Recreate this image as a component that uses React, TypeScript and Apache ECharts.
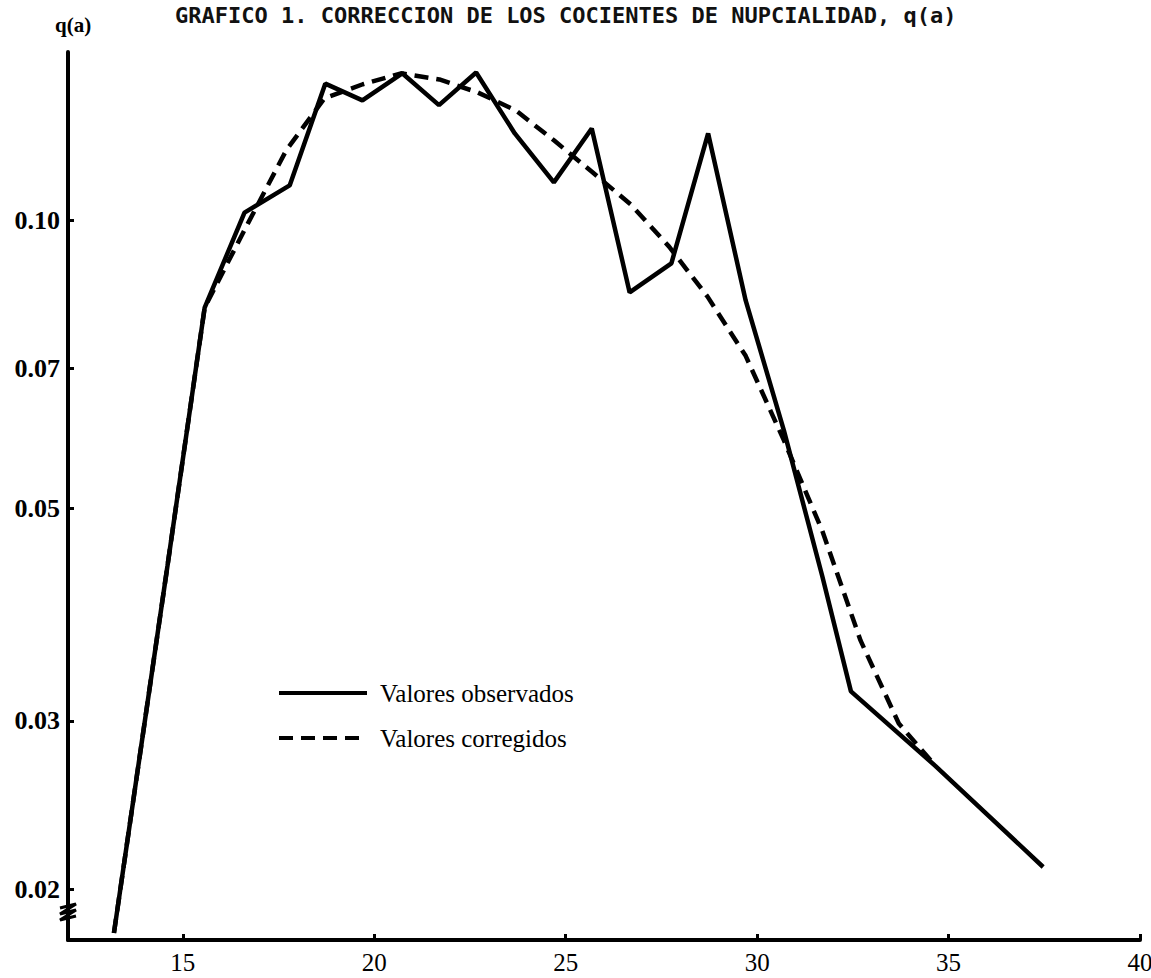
import React, { useEffect, useRef } from "react";
import * as echarts from "echarts";

const titleText = "GRAFICO 1. CORRECCION DE LOS COCIENTES DE NUPCIALIDAD, q(a)";
const yName = "q(a)";
const seriesNames = ["Valores observados", "Valores corregidos"];

const obsAge = [13.2, 14.6, 15.57, 16.61, 17.79, 18.72, 19.69, 20.73, 21.69, 22.66, 23.67, 24.69, 25.68, 26.67, 27.76, 28.72, 29.7, 30.7, 31.7, 32.45, 34.66, 37.47];
const obsQ = [0.018, 0.0436, 0.0811, 0.1019, 0.1088, 0.139, 0.1335, 0.1425, 0.132, 0.1428, 0.1233, 0.1096, 0.1248, 0.0841, 0.0902, 0.1233, 0.0825, 0.0603, 0.0425, 0.0322, 0.0269, 0.0211];

const corAge = [13.2, 14.6, 15.57, 16.7, 17.7, 18.7, 19.7, 20.7, 21.7, 22.7, 23.7, 24.7, 25.7, 26.7, 27.7, 28.7, 29.7, 30.7, 31.7, 32.7, 33.7, 34.66];
const corQ = [0.018, 0.0436, 0.0811, 0.0993, 0.1184, 0.1342, 0.1388, 0.1425, 0.1404, 0.1361, 0.1303, 0.1212, 0.1123, 0.1039, 0.0939, 0.0833, 0.0722, 0.0589, 0.0474, 0.0364, 0.0298, 0.0269];

const xTicks = [15, 20, 25, 30, 35, 40];
const yTicks = [0.02, 0.03, 0.05, 0.07, 0.1];

const serif = "'Liberation Serif', 'DejaVu Serif', serif";

export default function App() {
  const ref = useRef<HTMLDivElement>(null);
  useEffect(() => {
    if (!ref.current) return;
    const chart = echarts.init(ref.current, null, { renderer: "svg" });
    const obs = obsAge.map((a, i) => [a, obsQ[i]]);
    const cor = corAge.map((a, i) => [a, corQ[i]]);
    chart.setOption({
      animation: false,
      backgroundColor: "#ffffff",
      grid: { left: 68, right: 11, top: 52, bottom: 38, containLabel: false, outerBoundsMode: "none" },
      legend: {
        orient: "vertical",
        left: 277,
        top: 680,
        padding: 0,
        itemWidth: 88,
        itemHeight: 14,
        itemGap: 19,
        itemStyle: { opacity: 0, borderWidth: 0 },
        data: [
          { name: seriesNames[0], lineStyle: { width: 4, type: "solid", color: "#000" } },
          { name: seriesNames[1], lineStyle: { width: 4, type: [14, 8], color: "#000" } },
        ],
        textStyle: { fontFamily: serif, fontSize: 25, color: "#000", lineHeight: 26, padding: [0, 0, 0, 8] },
      },
      xAxis: {
        type: "value",
        min: 12,
        max: 40,
        axisLine: { lineStyle: { color: "#000", width: 4 } },
        axisTick: { show: true, inside: true, length: 6, customValues: xTicks, lineStyle: { color: "#000", width: 3 } },
        axisLabel: { customValues: xTicks, fontFamily: serif, fontSize: 25, color: "#000", margin: 10 },
        splitLine: { show: false },
      },
      yAxis: {
        type: "log",
        min: 0.0177,
        max: 0.15,
        axisLine: { show: true, lineStyle: { color: "#000", width: 4 } },
        axisTick: { show: true, inside: true, length: 6, customValues: yTicks, lineStyle: { color: "#000", width: 3 } },
        axisLabel: {
          customValues: yTicks,
          formatter: (v: number) => v.toFixed(2),
          fontFamily: serif,
          fontSize: 26,
          fontWeight: "bold",
          color: "#000",
          margin: 8,
        },
        splitLine: { show: false },
        minorTick: { show: false },
      },
      graphic: [
        {
          type: "text",
          left: 175,
          top: 4,
          style: { text: titleText, font: "bold 22px 'DejaVu Sans Mono', 'Liberation Mono', monospace", fill: "#111" },
        },
        {
          type: "text",
          left: 55,
          top: 14,
          style: { text: yName, font: `bold 21px ${serif}`, fill: "#000" },
        },
        {
          type: "polyline",
          shape: { points: [[60, 908], [76, 904], [60, 914], [76, 910], [60, 920], [76, 916]] },
          style: { stroke: "#000", lineWidth: 3, fill: "none" },
        },
      ],
      series: [
        {
          name: seriesNames[0],
          type: "line",
          data: obs,
          symbol: "none",
          showSymbol: false,
          lineStyle: { color: "#000", width: 4.5, type: "solid" },
          itemStyle: { color: "#000" },
        },
        {
          name: seriesNames[1],
          type: "line",
          data: cor,
          symbol: "none",
          showSymbol: false,
          lineStyle: { color: "#000", width: 4.5, type: [14, 8] },
          itemStyle: { color: "#000" },
        },
      ],
    });
    return () => chart.dispose();
  }, []);
  return <div ref={ref} style={{ position: "fixed", left: 0, top: 0, width: 1151, height: 978 }} />;
}
